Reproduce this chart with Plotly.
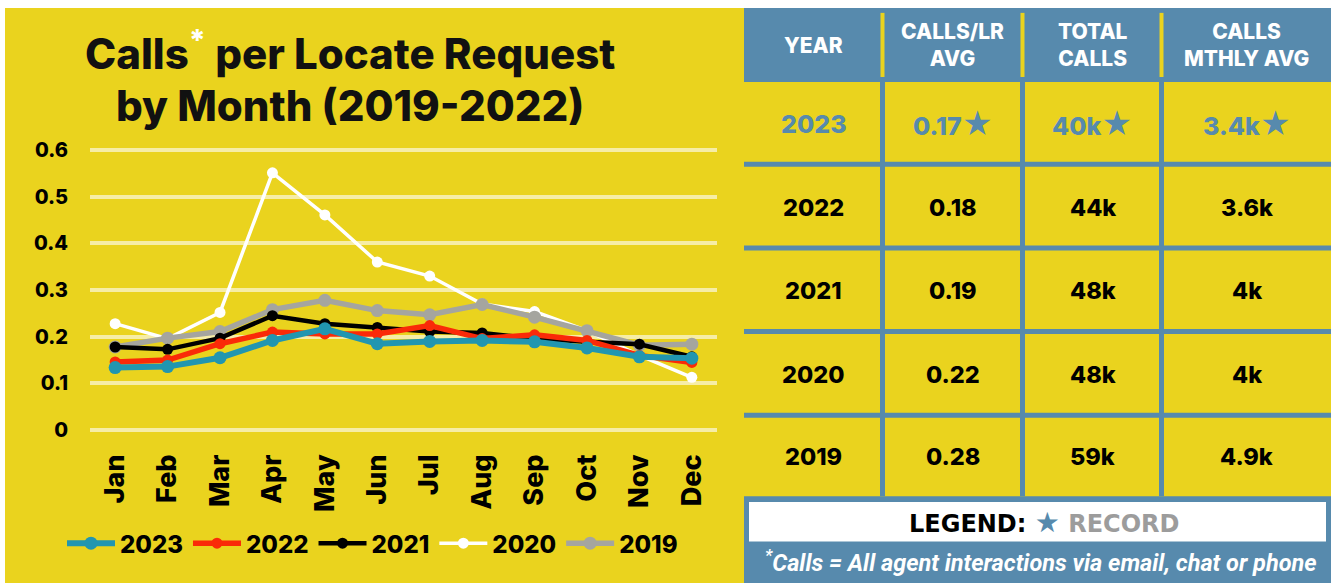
import plotly.graph_objects as go

W, H = 1335, 588

# ---------------- data ----------------
months = ["Jan", "Feb", "Mar", "Apr", "May", "Jun", "Jul", "Aug", "Sep", "Oct", "Nov", "Dec"]
v2023 = [0.134, 0.136, 0.155, 0.192, 0.217, 0.185, 0.190, 0.192, 0.189, 0.176, 0.157, 0.154]
v2022 = [0.146, 0.150, 0.185, 0.210, 0.206, 0.206, 0.224, 0.196, 0.204, 0.192, 0.160, 0.145]
v2021 = [0.178, 0.173, 0.197, 0.245, 0.228, 0.220, 0.211, 0.208, 0.196, 0.189, 0.184, 0.157]
v2020 = [0.228, 0.196, 0.252, 0.551, 0.461, 0.360, 0.330, 0.270, 0.254, 0.213, 0.160, 0.113]
v2019 = [0.178, 0.197, 0.211, 0.258, 0.278, 0.256, 0.247, 0.269, 0.242, 0.213, 0.182, 0.184]
y_ticks = [0, 0.1, 0.2, 0.3, 0.4, 0.5, 0.6]
y_tick_labels = ["0", "0.1", "0.2", "0.3", "0.4", "0.5", "0.6"]

table_header = ["YEAR", "CALLS/LR<br>AVG", "TOTAL<br>CALLS", "CALLS<br>MTHLY AVG"]
table_years = ["2023", "2022", "2021", "2020", "2019"]
table_calls_lr = ["0.17", "0.18", "0.19", "0.22", "0.28"]
table_total_calls = ["40k", "44k", "48k", "48k", "59k"]
table_monthly_avg = ["3.4k", "3.6k", "4k", "4k", "4.9k"]
table_record = [True, False, False, False, False]

title_line1 = "Calls<sup><span style='color:white'>*</span></sup> per Locate Request"
title_line2 = "by Month (2019-2022)"
footnote = "<sup>*</sup>Calls = All agent interactions via email, chat or phone"

# ---------------- style ----------------
YELLOW = "#EAD31E"
BLUE = "#578AAD"
GRID = "#F6EDA6"
FONT = "Inter"
WT = 800
STAR = "<span style='font-size:30px'>★</span>"

def fx(px):
    return px / W

def fy(py):
    return 1 - py / H

series = [
    # name, values, colour, line width, marker size, legend rank
    ("2020", v2020, "#FFFFFF", 3.5, 11, 4),
    ("2019", v2019, "#A5A59F", 5.5, 13, 5),
    ("2021", v2021, "#000000", 4.5, 11, 3),
    ("2022", v2022, "#FA2A08", 5.5, 11, 2),
    ("2023", v2023, "#2196B0", 6, 13, 1),
]

fig = go.Figure()
for name, vals, col, lw, ms, rank in series:
    fig.add_trace(go.Scatter(
        x=months, y=vals, name=name, mode="lines+markers",
        line=dict(color=col, width=lw), marker=dict(color=col, size=ms),
        legendrank=rank,
    ))

# chart area in pixels
PL, PR, PT, PB = 90, 717, 140, 440
y0_px, y6_px = 433, 149
per = (y0_px - y6_px) / 0.6
y_lo = -(PB - y0_px) / per
y_hi = 0.6 + (y6_px - PT) / per

shapes = []
annotations = []

# background (white margin at top/left/right)
shapes.append(dict(type="rect", xref="paper", yref="paper", layer="below",
                   x0=fx(5), x1=fx(1331), y0=fy(588), y1=fy(5),
                   fillcolor=YELLOW, line=dict(width=0)))

# ---------------- table ----------------
col_edges = [744, 883, 1023, 1162, 1331]
row_edges = [80, 163.5, 248.3, 333, 418, 500]
TT, TB = 5, 500

shapes.append(dict(type="rect", xref="paper", yref="paper", layer="below",
                   x0=fx(col_edges[0]), x1=fx(col_edges[-1]), y0=fy(row_edges[0]), y1=fy(TT),
                   fillcolor=BLUE, line=dict(width=0)))
for cx in col_edges[1:-1]:
    shapes.append(dict(type="line", xref="paper", yref="paper", layer="below",
                       x0=fx(cx - 0.5), x1=fx(cx - 0.5), y0=fy(75), y1=fy(10),
                       line=dict(color=YELLOW, width=4)))
    shapes.append(dict(type="line", xref="paper", yref="paper", layer="below",
                       x0=fx(cx - 0.5), x1=fx(cx - 0.5), y0=fy(TB), y1=fy(row_edges[0]),
                       line=dict(color=BLUE, width=5)))
for ry in row_edges[1:-1]:
    shapes.append(dict(type="line", xref="paper", yref="paper", layer="below",
                       x0=fx(col_edges[0]), x1=fx(col_edges[-1]), y0=fy(ry), y1=fy(ry),
                       line=dict(color=BLUE, width=5)))

for i, h in enumerate(table_header):
    cx = (col_edges[i] + col_edges[i + 1]) / 2
    annotations.append(dict(xref="paper", yref="paper", x=fx(cx), y=fy(43),
                            text=h, showarrow=False, xanchor="center", yanchor="middle",
                            font=dict(family=FONT, size=21, color="white", weight=WT)))

columns = [table_years, table_calls_lr, table_total_calls, table_monthly_avg]
for r in range(len(table_years)):
    cy = (row_edges[r] + row_edges[r + 1]) / 2 + 1
    rec = table_record[r]
    for c, colvals in enumerate(columns):
        cx = (col_edges[c] + col_edges[c + 1]) / 2
        txt = colvals[r]
        if rec and c > 0:
            txt = txt + STAR
        annotations.append(dict(xref="paper", yref="paper", x=fx(cx), y=fy(cy),
                                text=txt, showarrow=False, xanchor="center", yanchor="middle",
                                font=dict(family=FONT, size=25 if rec else 23.5,
                                          color=BLUE if rec else "black", weight=WT)))

# footer
shapes.append(dict(type="rect", xref="paper", yref="paper", layer="below",
                   x0=fx(744), x1=fx(1331), y0=fy(588), y1=fy(500),
                   fillcolor=BLUE, line=dict(width=0)))
shapes.append(dict(type="rect", xref="paper", yref="paper", layer="below",
                   x0=fx(749), x1=fx(1326), y0=fy(546), y1=fy(506),
                   fillcolor="white", line=dict(width=0)))
annotations.append(dict(
    xref="paper", yref="paper", x=fx(1044), y=fy(527), showarrow=False,
    xanchor="center", yanchor="middle",
    text=("<span style='color:black'>LEGEND:</span> "
          "<span style='color:%s;font-size:28px'>★</span> "
          "<span style='color:#9C9C9C'>RECORD</span>") % BLUE,
    font=dict(family="DejaVu Sans", size=24, weight="bold")))
annotations.append(dict(
    xref="paper", yref="paper", x=fx(1041), y=fy(566), showarrow=False,
    xanchor="center", yanchor="middle", text="<b><i>" + footnote + "</i></b>",
    font=dict(family="Roboto", size=23.5, color="white")))

# title
annotations.append(dict(xref="paper", yref="paper", x=fx(350), y=fy(49), text=title_line1,
                        showarrow=False, xanchor="center", yanchor="middle",
                        font=dict(family=FONT, size=42, color="#111111", weight=WT)))
annotations.append(dict(xref="paper", yref="paper", x=fx(350), y=fy(104), text=title_line2,
                        showarrow=False, xanchor="center", yanchor="middle",
                        font=dict(family=FONT, size=42, color="#111111", weight=WT)))

fig.update_layout(
    width=W, height=H, margin=dict(l=0, r=0, t=0, b=0),
    paper_bgcolor="white", plot_bgcolor=YELLOW,
    shapes=shapes, annotations=annotations,
    xaxis=dict(domain=[fx(PL), fx(PR)], range=[-0.48, 11.48], type="category",
               showgrid=False, zeroline=False, showline=False, ticks="",
               tickangle=-90, ticklabelstandoff=11,
               tickfont=dict(family=FONT, size=27, color="black", weight=WT)),
    yaxis=dict(domain=[fy(PB), fy(PT)], range=[y_lo, y_hi],
               tickvals=y_ticks, ticktext=y_tick_labels,
               showgrid=True, gridcolor=GRID, gridwidth=4, zeroline=False,
               showline=False, ticks="", ticklabelstandoff=21,
               tickfont=dict(family=FONT, size=20, color="black", weight=WT)),
    showlegend=True,
    legend=dict(orientation="h", x=fx(62), y=fy(548), xanchor="left", yanchor="middle",
                bgcolor="rgba(0,0,0,0)", itemwidth=48, tracegroupgap=0,
                font=dict(family=FONT, size=24, color="black", weight=WT)),
)

fig.write_html("out.html", config={"displayModeBar": False},
               post_script="document.body.style.margin='0';")
